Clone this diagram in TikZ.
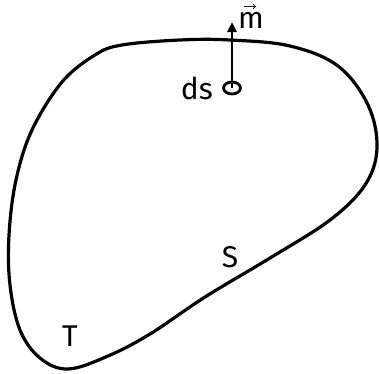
\documentclass[tikz,border=0pt]{standalone}
\usepackage{fontspec}
\usepackage{unicode-math}
\setsansfont{Fira Sans}
\setmathfont{Latin Modern Math}
\usepackage{tikz}
\usetikzlibrary{arrows.meta, positioning, shapes.geometric}
\definecolor{inkblack}{RGB}{0,0,0}
\tikzset{
  outline/.style={draw=inkblack, line width=3.2pt, line join=round},
  lbl/.style={font=\sffamily\fontsize{30}{32}\selectfont, inner sep=1pt},
  patch/.style={ellipse, draw=inkblack, line width=2.8pt,
    minimum width=17pt, minimum height=12pt, inner sep=0pt},
  arrow/.style={-{Triangle[length=10pt, width=9pt]}, line width=2.8pt, color=inkblack}
}
\begin{document}
\begin{tikzpicture}[x=1pt, y=-1pt]
  \useasboundingbox (0,0) rectangle (379,373);
  % closed body boundary
  \draw[outline] plot[smooth cycle, tension=0.6] coordinates {
    (122,45) (180,40) (230,40) (290,46) (338,66) (368,105) (377,148)
    (365,185) (330,220) (270,258) (205,297) (150,334) (108,356)
    (68,369) (40,358) (20,330) (10,285) (9,235) (16,180) (32,130)
    (62,82) (95,55)};
  % surface element and normal
  \node[patch] (elem) at (232,88) {};
  \coordinate (tip) at (232,22);
  \draw[arrow] (elem.center) -- (tip);
  \node[lbl, left=8pt of elem] (ds) {ds};
  \node[lbl] (normal) at (251,16) {$\vec{\mathsf{m}}$};
  % labels
  \node[lbl] (surf) at (230,257) {S};
  \node[lbl] (vol) at (70,336) {T};
\end{tikzpicture}
\end{document}
